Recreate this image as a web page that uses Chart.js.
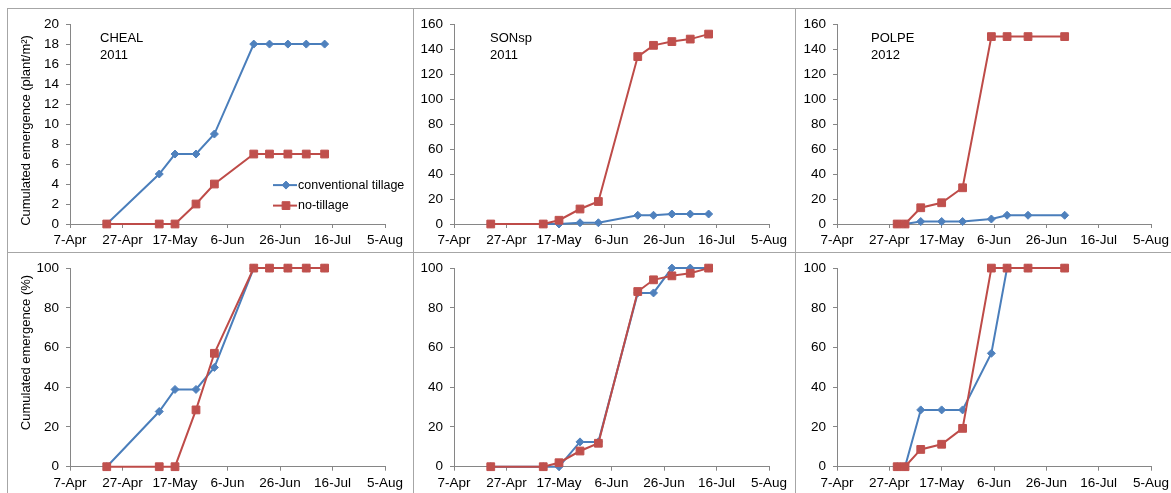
<!DOCTYPE html>
<html>
<head>
<meta charset="utf-8">
<script src="https://cdn.jsdelivr.net/npm/chart.js@4.4.1/dist/chart.umd.min.js"></script>
<style>
  body { margin: 0; background: #fff; width: 1171px; height: 493px; overflow: hidden; position: relative; }
  .panel { position: absolute; box-sizing: border-box; border: 1px solid #a6a6a6; }
  .panel canvas { position: absolute; left: 0; top: 0; }
</style>
</head>
<body>
<div class="panel" style="left:7px;top:8px;width:407px;height:245px"><canvas id="c1" width="405" height="243"></canvas></div>
<div class="panel" style="left:413px;top:8px;width:383px;height:245px"><canvas id="c2" width="381" height="243"></canvas></div>
<div class="panel" style="left:795px;top:8px;width:380px;height:245px"><canvas id="c3" width="378" height="243"></canvas></div>
<div class="panel" style="left:7px;top:252px;width:407px;height:250px"><canvas id="c4" width="405" height="248"></canvas></div>
<div class="panel" style="left:413px;top:252px;width:383px;height:250px"><canvas id="c5" width="381" height="248"></canvas></div>
<div class="panel" style="left:795px;top:252px;width:380px;height:250px"><canvas id="c6" width="378" height="248"></canvas></div>
<script>
const xTickLabels = ['7-Apr', '27-Apr', '17-May', '6-Jun', '26-Jun', '16-Jul', '5-Aug'];

// sampling dates (month-day)
const dates2011 = ['04-21', '05-11', '05-17', '05-25', '06-01', '06-16', '06-22', '06-29', '07-06', '07-13'];
const dates2012 = ['04-30', '05-03', '05-09', '05-17', '05-25', '06-05', '06-11', '06-19', '07-03'];

// CHEAL 2011
const chealConv      = [0, 5, 7, 7, 9, 18, 18, 18, 18, 18];
const chealNoTill    = [0, 0, 0, 2, 4, 7, 7, 7, 7, 7];
const chealConvPct   = [0, 27.8, 38.9, 38.9, 50, 100, 100, 100, 100, 100];
const chealNoTillPct = [0, 0, 0, 28.6, 57.1, 100, 100, 100, 100, 100];

// SONsp 2011
const sonspConv      = [0, 0, 0, 1, 1, 7, 7, 8, 8, 8];
const sonspNoTill    = [0, 0, 3, 12, 18, 134, 143, 146, 148, 152];
const sonspConvPct   = [0, 0, 0, 12.5, 12.5, 87.5, 87.5, 100, 100, 100];
const sonspNoTillPct = [0, 0, 2.0, 7.9, 11.8, 88.2, 94.1, 96.1, 97.4, 100];

// POLPE 2012
const polpeConv      = [0, 0, 2, 2, 2, 4, 7, 7, 7];
const polpeNoTill    = [0, 0, 13, 17, 29, 150, 150, 150, 150];
const polpeConvPct   = [0, 0, 28.6, 28.6, 28.6, 57.1, 100, 100, 100];
const polpeNoTillPct = [0, 0, 8.7, 11.3, 19.3, 100, 100, 100, 100];

const FONT = '"Liberation Sans", Arial, sans-serif';
const AXIS_GRAY = '#868686';
const BLUE = '#4a7ebb', BLUE_FILL = '#4f81bd';
const RED = '#be4b48', RED_FILL = '#c0504d';

// days after 7 April
function dayNum(md){
    const [m, d] = md.split('-').map(Number);
    return (Date.UTC(2011, m - 1, d) - Date.UTC(2011, 3, 7)) / 86400000;
}

function toPoints(dates, values){
    return values.map((v, i) => ({x: dayNum(dates[i]), y: v}));
}

// site label, rotated y title and the in-plot legend
const panelExtras = {
    id: 'panelExtras',
    afterDraw(chart, args, opts){
        const {ctx, chartArea} = chart;
        ctx.save();
        ctx.fillStyle = '#000';
        ctx.textBaseline = 'middle';

        if(opts.site){
            ctx.font = '13px ' + FONT;
            ctx.textAlign = 'left';
            opts.site.forEach((line, i) => {
                ctx.fillText(line, chartArea.left + opts.siteX, chartArea.top + 14 + i * 17);
            });
        }

        if(opts.yTitle){
            ctx.save();
            ctx.font = '13px ' + FONT;
            ctx.translate(opts.titleX, opts.titleY);
            ctx.rotate(-Math.PI / 2);
            ctx.textAlign = 'center';
            ctx.fillText(opts.yTitle, 0, 0);
            ctx.restore();
        }

        if(opts.legend){
            ctx.font = '12.5px ' + FONT;
            ctx.textAlign = 'left';
            chart.data.datasets.forEach((ds, i) => {
                const x0 = chartArea.left + 203;
                const y = chartArea.top + 161 + i * 20.5;
                ctx.strokeStyle = ds.borderColor;
                ctx.lineWidth = ds.borderWidth;
                ctx.beginPath();
                ctx.moveTo(x0, y);
                ctx.lineTo(x0 + 24, y);
                ctx.stroke();
                ctx.fillStyle = ds.pointBackgroundColor;
                ctx.strokeStyle = ds.pointBorderColor;
                ctx.lineWidth = 1;
                Chart.helpers.drawPoint(ctx, {pointStyle: ds.pointStyle, radius: ds.pointRadius, rotation: 0, borderWidth: 1}, x0 + 13, y);
                ctx.fillStyle = '#000';
                ctx.fillText(ds.label, x0 + 25, y);
            });
        }
        ctx.restore();
    }
};

function createPanel(canvasId, dates, conv, noTill, yMax, yStep, area, extras){
    const canvas = document.getElementById(canvasId);
    const W = canvas.width, H = canvas.height;

    new Chart(canvas, {
        type: 'line',
        data: {
            datasets: [{
                label: 'conventional tillage',
                data: toPoints(dates, conv),
                borderColor: BLUE,
                borderWidth: 2,
                pointStyle: 'rectRot',
                pointRadius: 4,
                pointBackgroundColor: BLUE_FILL,
                pointBorderColor: BLUE_FILL,
                pointBorderWidth: 1,
                order: 1,
                clip: false
            }, {
                label: 'no-tillage',
                data: toPoints(dates, noTill),
                borderColor: RED,
                borderWidth: 2,
                pointStyle: 'rect',
                pointRadius: 5.5,
                pointBackgroundColor: RED_FILL,
                pointBorderColor: RED_FILL,
                pointBorderWidth: 1,
                order: 0,
                clip: false
            }]
        },
        options: {
            responsive: false,
            animation: false,
            devicePixelRatio: 1,
            layout: {
                padding: {left: 0, top: area.top, right: W - area.right, bottom: 0}
            },
            elements: {line: {tension: 0}},
            plugins: {
                legend: {display: false},
                tooltip: {enabled: false},
                panelExtras: extras
            },
            scales: {
                x: {
                    type: 'linear',
                    min: 0,
                    max: 120,
                    afterFit: (scale) => { scale.height = H - area.bottom; },
                    grid: {drawOnChartArea: false, drawTicks: true, tickLength: 4, tickColor: AXIS_GRAY, color: AXIS_GRAY},
                    border: {display: true, color: AXIS_GRAY, width: 1},
                    ticks: {
                        stepSize: 20,
                        autoSkip: false,
                        maxRotation: 0,
                        minRotation: 0,
                        padding: 4,
                        color: '#000',
                        font: {family: FONT, size: 13.5},
                        callback: (v) => xTickLabels[v / 20]
                    }
                },
                y: {
                    min: 0,
                    max: yMax,
                    afterFit: (scale) => { scale.width = area.left; },
                    grid: {drawOnChartArea: false, drawTicks: true, tickLength: 4, tickColor: AXIS_GRAY, color: AXIS_GRAY},
                    border: {display: true, color: AXIS_GRAY, width: 1},
                    ticks: {
                        stepSize: yStep,
                        padding: 7,
                        color: '#000',
                        font: {family: FONT, size: 13.5}
                    }
                }
            }
        },
        plugins: [panelExtras]
    });
}

const topRow = {top: 12, bottom: 215};
const bottomRow = {top: 11.3, bottom: 213.7};

createPanel('c1', dates2011, chealConv, chealNoTill, 20, 2,
    {left: 62, right: 377, ...topRow},
    {site: ['CHEAL', '2011'], siteX: 30, yTitle: 'Cumulated emergence (plant/m²)', titleX: 18.7, titleY: 121.5, legend: true});
createPanel('c2', dates2011, sonspConv, sonspNoTill, 160, 20,
    {left: 40, right: 355, ...topRow},
    {site: ['SONsp', '2011'], siteX: 36});
createPanel('c3', dates2012, polpeConv, polpeNoTill, 160, 20,
    {left: 41, right: 355, ...topRow},
    {site: ['POLPE', '2012'], siteX: 34});

createPanel('c4', dates2011, chealConvPct, chealNoTillPct, 100, 20,
    {left: 62, right: 377, ...bottomRow},
    {yTitle: 'Cumulated emergence (%)', titleX: 18.7, titleY: 99.5});
createPanel('c5', dates2011, sonspConvPct, sonspNoTillPct, 100, 20,
    {left: 40, right: 355, ...bottomRow}, {});
createPanel('c6', dates2012, polpeConvPct, polpeNoTillPct, 100, 20,
    {left: 41, right: 355, ...bottomRow}, {});
</script>
</body>
</html>
